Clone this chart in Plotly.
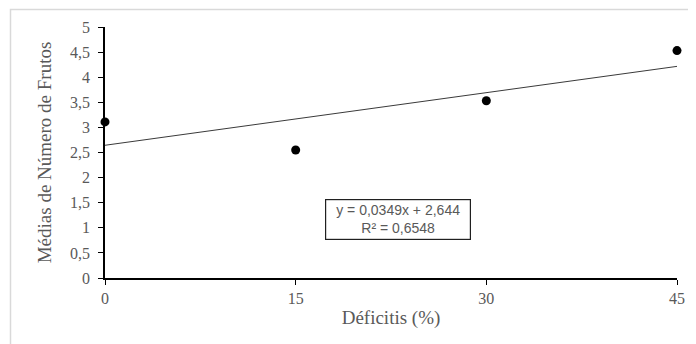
import numpy as np
import plotly.graph_objects as go

deficits = [0, 15, 30, 45]
medias = [3.11, 2.55, 3.53, 4.53]
x_ticks = [0, 15, 30, 45]
y_ticks = [0, 0.5, 1, 1.5, 2, 2.5, 3, 3.5, 4, 4.5, 5]
y_tick_labels = ["0", "0,5", "1", "1,5", "2", "2,5", "3", "3,5", "4", "4,5", "5"]
eq_text = "y = 0,0349x + 2,644<br>R² = 0,6548"

slope, intercept = np.polyfit(deficits, medias, 1)
fit_x = [min(deficits), max(deficits)]
fit_y = [slope * v + intercept for v in fit_x]

# page has an 8px body margin, so the figure is sized/offset to compensate
W, H = 688, 336
L, R, T, B = 97, 19, 19, 66
pw, ph = W - L - R, H - T - B

fig = go.Figure()
fig.add_trace(go.Scatter(x=fit_x, y=fit_y, mode="lines",
                         line=dict(color="#3a3a3a", width=1), hoverinfo="skip"))
fig.add_trace(go.Scatter(x=deficits, y=medias, mode="markers",
                         marker=dict(color="black", size=9), cliponaxis=False))

fig.add_annotation(x=23.05, y=1.16, xref="x", yref="y", text=eq_text,
                   showarrow=False, font=dict(family="Liberation Sans", size=14, color="#595959"),
                   bordercolor="#202020", borderwidth=1.2, borderpad=2, bgcolor="white",
                   align="center", width=140)

# outer chart border (only top/left visible)
fig.add_shape(type="rect", xref="paper", yref="paper",
              x0=(2.5 - L) / pw, x1=(W + 20 - L) / pw,
              y0=(ph + T - (H + 20)) / ph, y1=(ph + T - 1.5) / ph,
              line=dict(color="#d9d9d9", width=1.5), layer="below")

fig.update_layout(
    width=W, height=H,
    margin=dict(l=L, r=R, t=T, b=B),
    paper_bgcolor="white", plot_bgcolor="white",
    showlegend=False,
    xaxis=dict(range=[0, 45], tickvals=x_ticks, ticks="outside", ticklen=5,
               tickcolor="black", showline=True, linecolor="black", linewidth=1.5,
               showgrid=False, zeroline=False, automargin=False,
               tickfont=dict(family="Liberation Serif", size=16, color="#595959"),
               title=dict(text="Déficitis (%)", standoff=5,
                          font=dict(family="Liberation Serif", size=19, color="#595959"))),
    yaxis=dict(range=[0, 5], tickvals=y_ticks, ticktext=y_tick_labels, ticks="outside",
               ticklen=5, tickcolor="black", showline=True, linecolor="black", linewidth=1.5,
               showgrid=False, zeroline=False, automargin=False, ticklabelstandoff=5,
               tickfont=dict(family="Liberation Serif", size=16, color="#595959"),
               title=dict(text="Médias de Número de Frutos", standoff=13,
                          font=dict(family="Liberation Serif", size=19, color="#595959"))),
)

fig.write_html("out.html")
